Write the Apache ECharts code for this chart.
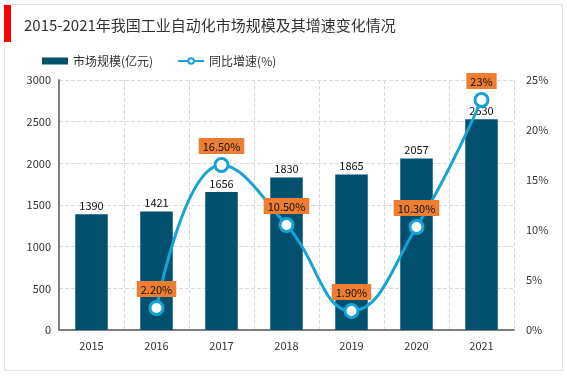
<!DOCTYPE html>
<html><head><meta charset="utf-8">
<script src="https://cdn.jsdelivr.net/npm/echarts@6/dist/echarts.min.js"></script>
<style>html,body{margin:0;padding:0;background:#fff}#c{width:567px;height:378px}</style>
</head><body><div id="c"></div>
<script>
const categories = ['2015','2016','2017','2018','2019','2020','2021'];
const marketSize = [1390,1421,1656,1830,1865,2057,2530];
const growthRate = [null,2.2,16.5,10.5,1.9,10.3,23];
const growthLabels = ['','2.20%','16.50%','10.50%','1.90%','10.30%','23%'];
const leftTicks = [0,500,1000,1500,2000,2500,3000];
const rightTicks = ['0%','5%','10%','15%','20%','25%'];

const FONT = '"Noto Sans CJK SC","Noto Sans",sans-serif';
const chart = echarts.init(document.getElementById('c'));
chart.setOption({
  animation:false,
  textStyle:{fontFamily:FONT},
  graphic:[
    {type:'rect',shape:{x:4.5,y:4.5,width:558,height:366},style:{fill:'none',stroke:'#e3e3e3',lineWidth:1},z:-1},
    {type:'rect',shape:{x:4,y:5,width:7,height:37},style:{fill:'#ff0000'}},
    {type:'text',left:24,top:18,style:{text:'2015-2021年我国工业自动化市场规模及其增速变化情况',font:'15px '+FONT,fill:'#333'}}
  ],
  legend:{
    left:37,top:50,itemGap:24,itemWidth:26,itemHeight:7,
    textStyle:{fontSize:12,color:'#333',fontFamily:FONT},
    data:[{name:'市场规模(亿元)',icon:'rect'},{name:'同比增速(%)'}]
  },
  grid:{left:59,right:53,top:80,bottom:48},
  xAxis:{
    type:'category',data:categories,
    axisLine:{lineStyle:{color:'#808080',width:2}},
    axisTick:{show:false},
    axisLabel:{color:'#333',fontSize:11,margin:10},
    splitLine:{show:true,interval:0,lineStyle:{type:'dashed',color:'#d9d9d9'}}
  },
  yAxis:[
    {type:'value',min:0,max:3000,interval:500,
     axisLine:{show:true,lineStyle:{color:'#808080',width:2}},
     axisTick:{show:false},
     axisLabel:{color:'#333',fontSize:11,margin:8,formatter:v=>leftTicks.includes(v)?String(v):''},
     splitLine:{lineStyle:{type:'dashed',color:'#d9d9d9'}}},
    {type:'value',min:0,max:25,interval:5,
     axisLine:{show:false},axisTick:{show:false},
     axisLabel:{color:'#333',fontSize:11,margin:12,formatter:v=>rightTicks[v/5]},
     splitLine:{show:false}}
  ],
  series:[
    {name:'市场规模(亿元)',type:'bar',data:marketSize,barWidth:'50%',
     itemStyle:{color:'#00506e'},
     label:{show:true,position:'top',color:'#111',fontSize:11,distance:3}},
    {name:'同比增速(%)',type:'line',yAxisIndex:1,data:growthRate,smooth:0.45,
     symbol:'circle',symbolSize:13,showSymbol:true,connectNulls:false,
     lineStyle:{color:'#17a2d8',width:3},
     itemStyle:{color:'#fff',borderColor:'#17a2d8',borderWidth:3},
     label:{show:true,position:'top',distance:3,
       formatter:p=>growthLabels[p.dataIndex],
       backgroundColor:'#ed7d31',color:'#111',fontSize:11,padding:[3,4,2,4]},
     z:5}
  ]
});
</script></body></html>
